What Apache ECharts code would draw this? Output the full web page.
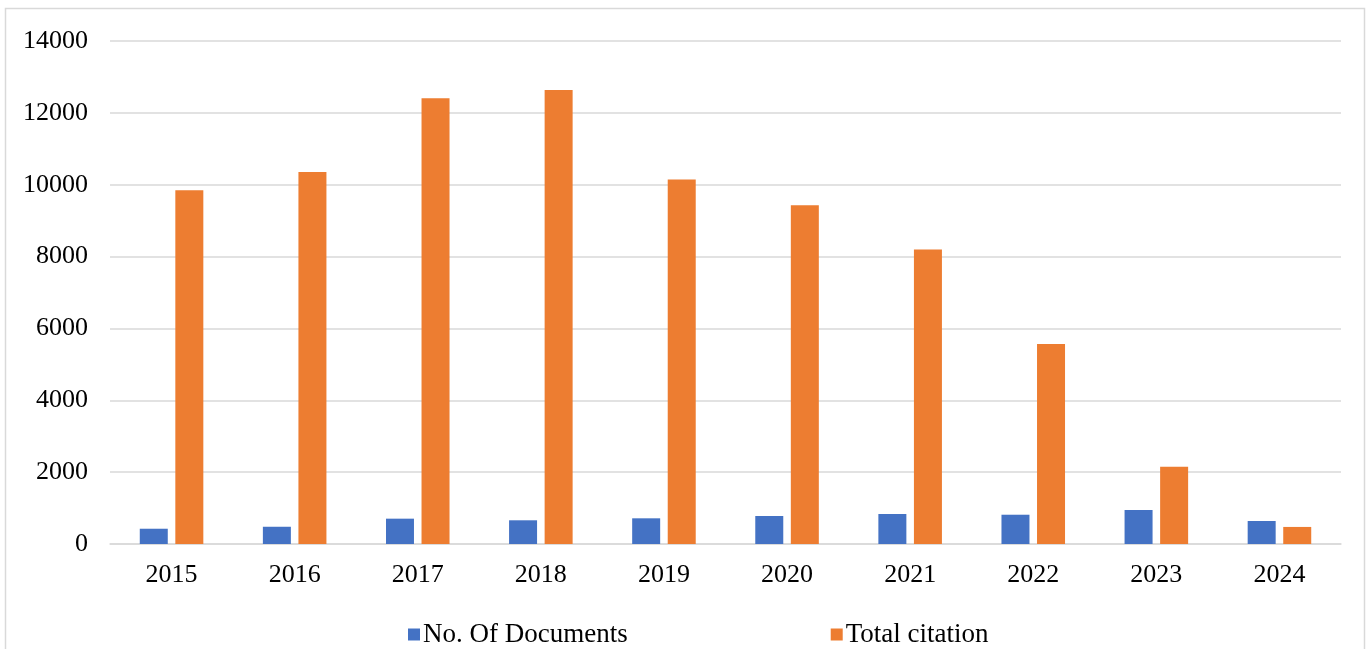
<!DOCTYPE html>
<html>
<head>
<meta charset="utf-8">
<script src="https://cdn.jsdelivr.net/npm/echarts@6/dist/echarts.min.js"></script>
<style>
html,body{margin:0;padding:0;background:#fff;}
#chart{width:1368px;height:649px;}
</style>
</head>
<body>
<div id="chart"></div>
<script>
const years = ['2015','2016','2017','2018','2019','2020','2021','2022','2023','2024'];
const documents = [425, 480, 705, 660, 715, 780, 835, 815, 945, 640];
const citations = [9845, 10355, 12405, 12635, 10145, 9430, 8195, 5570, 2150, 475];
const seriesNames = ['No. Of Documents', 'Total citation'];

const chart = echarts.init(document.getElementById('chart'));
const font = 'Liberation Serif, Times New Roman, serif';
chart.setOption({
  animation: false,
  backgroundColor: '#fff',
  graphic: [{
    type: 'rect',
    shape: {x: 5.5, y: 8.5, width: 1359, height: 700},
    style: {fill: 'none', stroke: '#d9d9d9', lineWidth: 1.5},
    silent: true
  }],
  grid: {left: 110, right: 27, top: 41, bottom: 105},
  legend: {
    left: 403, top: 616,
    itemGap: 203,
    itemWidth: 12, itemHeight: 12,
    icon: 'rect',
    textStyle: {fontFamily: font, fontSize: 27, color: '#000', padding: [0,0,0,-2]},
    data: seriesNames
  },
  xAxis: {
    type: 'category',
    data: years,
    axisLine: {lineStyle: {color: '#d9d9d9', width: 1.5}},
    axisTick: {show: false},
    axisLabel: {fontFamily: font, fontSize: 26, color: '#000', margin: 18}
  },
  yAxis: {
    type: 'value',
    min: 0, max: 14000, interval: 2000,
    axisLine: {show: false},
    axisTick: {show: false},
    splitLine: {lineStyle: {color: '#d9d9d9', width: 1.5}},
    axisLabel: {fontFamily: font, fontSize: 26, color: '#000', margin: 22,
      formatter: v => String(v)}
  },
  series: [
    {name: seriesNames[0], type: 'bar', data: documents, barWidth: 28, barGap: '27%',
     itemStyle: {color: '#4472c4'}},
    {name: seriesNames[1], type: 'bar', data: citations, barWidth: 28,
     itemStyle: {color: '#ed7d31'}}
  ]
});
</script>
</body>
</html>
